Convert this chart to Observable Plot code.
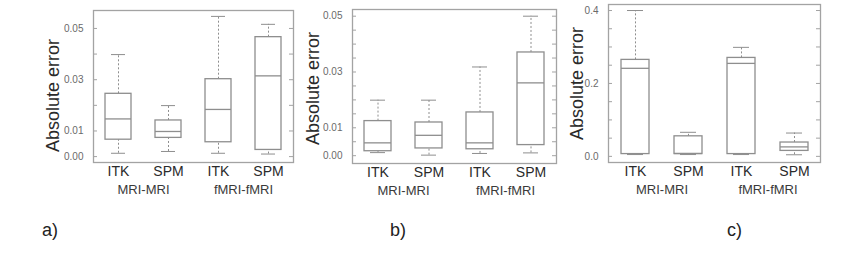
<!DOCTYPE html>
<html>
<head>
<meta charset="utf-8">
<script src="https://cdn.jsdelivr.net/npm/d3@7"></script>
<script src="https://cdn.jsdelivr.net/npm/@observablehq/plot@0.6"></script>
<style>
  html, body { margin: 0; padding: 0; background: #fff; }
  #fig { position: relative; width: 848px; height: 257px; overflow: hidden; font-family: "Liberation Sans", Arial, sans-serif; }
  .panel { position: absolute; top: 0; }
  .tag { position: absolute; font-size: 18px; color: #222; line-height: 1; }
</style>
</head>
<body>
<div id="fig"></div>
<script>
// ---- data ----
const methods = ["ITK", "SPM", "ITK", "SPM"];
const groups = ["MRI-MRI", "MRI-MRI", "fMRI-fMRI", "fMRI-fMRI"];
const groupNames = ["MRI-MRI", "fMRI-fMRI"];

// panel a)
const aLow  = [0.0013, 0.0020, 0.0013, 0.0010];
const aQ1   = [0.0066, 0.0073, 0.0056, 0.0026];
const aMed  = [0.0147, 0.0098, 0.0184, 0.0315];
const aQ3   = [0.0245, 0.0141, 0.0302, 0.0466];
const aHigh = [0.0398, 0.0199, 0.0547, 0.0516];
const aLabelTicks = [0, 0.01, 0.03, 0.05];
const aMinorTicks = [0, 0.01, 0.02, 0.03, 0.04, 0.05];

// panel b)
const bLow  = [0.0011, 0.0002, 0.0008, 0.0010];
const bQ1   = [0.0016, 0.0026, 0.0023, 0.0038];
const bMed  = [0.0046, 0.0073, 0.0046, 0.0261];
const bQ3   = [0.0124, 0.0119, 0.0155, 0.0370];
const bHigh = [0.0199, 0.0199, 0.0318, 0.0500];
const bLabelTicks = [0, 0.01, 0.03, 0.05];
const bMinorTicks = [0, 0.005, 0.01, 0.015, 0.02, 0.025, 0.03, 0.035, 0.04, 0.045, 0.05];

// panel c)
const cLow  = [0.0050, 0.0050, 0.0050, 0.0044];
const cQ1   = [0.0063, 0.0063, 0.0063, 0.0150];
const cMed  = [0.2415, 0.0080, 0.2550, 0.0260];
const cQ3   = [0.2646, 0.0550, 0.2700, 0.0380];
const cHigh = [0.4000, 0.0660, 0.2990, 0.0640];
const cLabelTicks = [0, 0.2, 0.4];
const cMinorTicks = [0, 0.05, 0.1, 0.15, 0.2, 0.25, 0.3, 0.35, 0.4];

const yLabel = "Absolute error";
const tags = ["a)", "b)", "c)"];

// ---- drawing ----
const fig = document.getElementById("fig");
const frameColor = "#a3a3a3";
const boxColor = "#8e8e8e";

function rowsOf(low, q1, med, q3, high) {
  return methods.map((m, i) => ({
    key: groups[i] + "|" + m, group: groups[i], method: m,
    low: low[i], q1: q1[i], med: med[i], q3: q3[i], high: high[i]
  }));
}

function panel(cfg) {
  const rows = rowsOf(...cfg.stats);
  const keys = rows.map(d => d.key);
  const innerW = cfg.width - cfg.ml - cfg.mr;
  const groupRows = groupNames.map(g => ({group: g, key: rows.find(r => r.group === g).key}));
  const chart = Plot.plot({
    width: cfg.width,
    height: cfg.height,
    marginLeft: cfg.ml,
    marginRight: cfg.mr,
    marginTop: cfg.mt,
    marginBottom: cfg.mb,
    style: {fontFamily: "Liberation Sans, Arial, sans-serif", background: "transparent", overflow: "visible"},
    x: {domain: keys, paddingInner: 0.48, paddingOuter: 0.24, axis: null},
    y: {domain: cfg.yDomain, axis: null},
    marks: [
      Plot.tickY(cfg.minor, {y: d => d, insetRight: innerW - 4, stroke: frameColor}),
      Plot.tickY(cfg.minor, {y: d => d, insetLeft: innerW - 4, stroke: frameColor}),
      Plot.ruleX(rows, {x: "key", y1: "q3", y2: "high", stroke: boxColor, strokeDasharray: "2,2"}),
      Plot.ruleX(rows, {x: "key", y1: "low", y2: "q1", stroke: boxColor, strokeDasharray: "2,2"}),
      Plot.tickY(rows, {x: "key", y: "high", stroke: boxColor, insetLeft: 6, insetRight: 6}),
      Plot.tickY(rows, {x: "key", y: "low", stroke: boxColor, insetLeft: 6, insetRight: 6}),
      Plot.barY(rows, {x: "key", y1: "q1", y2: "q3", fill: "white", stroke: boxColor, strokeWidth: 1.3}),
      Plot.tickY(rows, {x: "key", y: "med", stroke: boxColor, strokeWidth: 1.3}),
      Plot.frame({stroke: frameColor, strokeWidth: 1.3}),
      Plot.axisX({tickSize: 0, tickPadding: 4, fontSize: 14, color: "#2a2a2a", tickFormat: k => k.split("|")[1], label: null}),
      Plot.axisY({ticks: cfg.labelTicks, tickSize: 0, tickPadding: 10, fontSize: 10, color: "#6a6a6a", tickFormat: d3.format(cfg.fmt), label: null}),
      Plot.text(groupRows, {x: "key", text: "group", frameAnchor: "bottom", dx: innerW / 8, dy: 22, lineAnchor: "top", fontSize: 13, fill: "#3a3a3a"}),
      Plot.text([yLabel], {text: d => d, frameAnchor: "left", textAnchor: "middle", lineAnchor: "middle", rotate: -90, dx: cfg.labelDx, dy: cfg.labelDy, fontSize: 18, fill: "#2a2a2a"})
    ]
  });
  chart.classList.add("panel");
  chart.style.left = cfg.left + "px";
  fig.appendChild(chart);
}

panel({left: 0, width: 300, height: 200, ml: 93, mr: 7, mt: 10, mb: 38,
  yDomain: [-0.0023, 0.057], labelTicks: aLabelTicks, minor: aMinorTicks, fmt: ".2f",
  stats: [aLow, aQ1, aMed, aQ3, aHigh], labelDx: -40, labelDy: 9});
panel({left: 280, width: 290, height: 200, ml: 72, mr: 14, mt: 9, mb: 37,
  yDomain: [-0.0028, 0.0524], labelTicks: bLabelTicks, minor: bMinorTicks, fmt: ".2f",
  stats: [bLow, bQ1, bMed, bQ3, bHigh], labelDx: -39, labelDy: 2});
panel({left: 550, width: 298, height: 200, ml: 58, mr: 28, mt: 4, mb: 38,
  yDomain: [-0.0168, 0.4165], labelTicks: cLabelTicks, minor: cMinorTicks, fmt: ".1f",
  stats: [cLow, cQ1, cMed, cQ3, cHigh], labelDx: -31, labelDy: 0});

const tagPos = [[42, 221], [390, 221], [727, 221]];
tags.forEach((t, i) => {
  const el = document.createElement("div");
  el.className = "tag";
  el.textContent = t;
  el.style.left = tagPos[i][0] + "px";
  el.style.top = tagPos[i][1] + "px";
  fig.appendChild(el);
});
</script>
</body>
</html>
